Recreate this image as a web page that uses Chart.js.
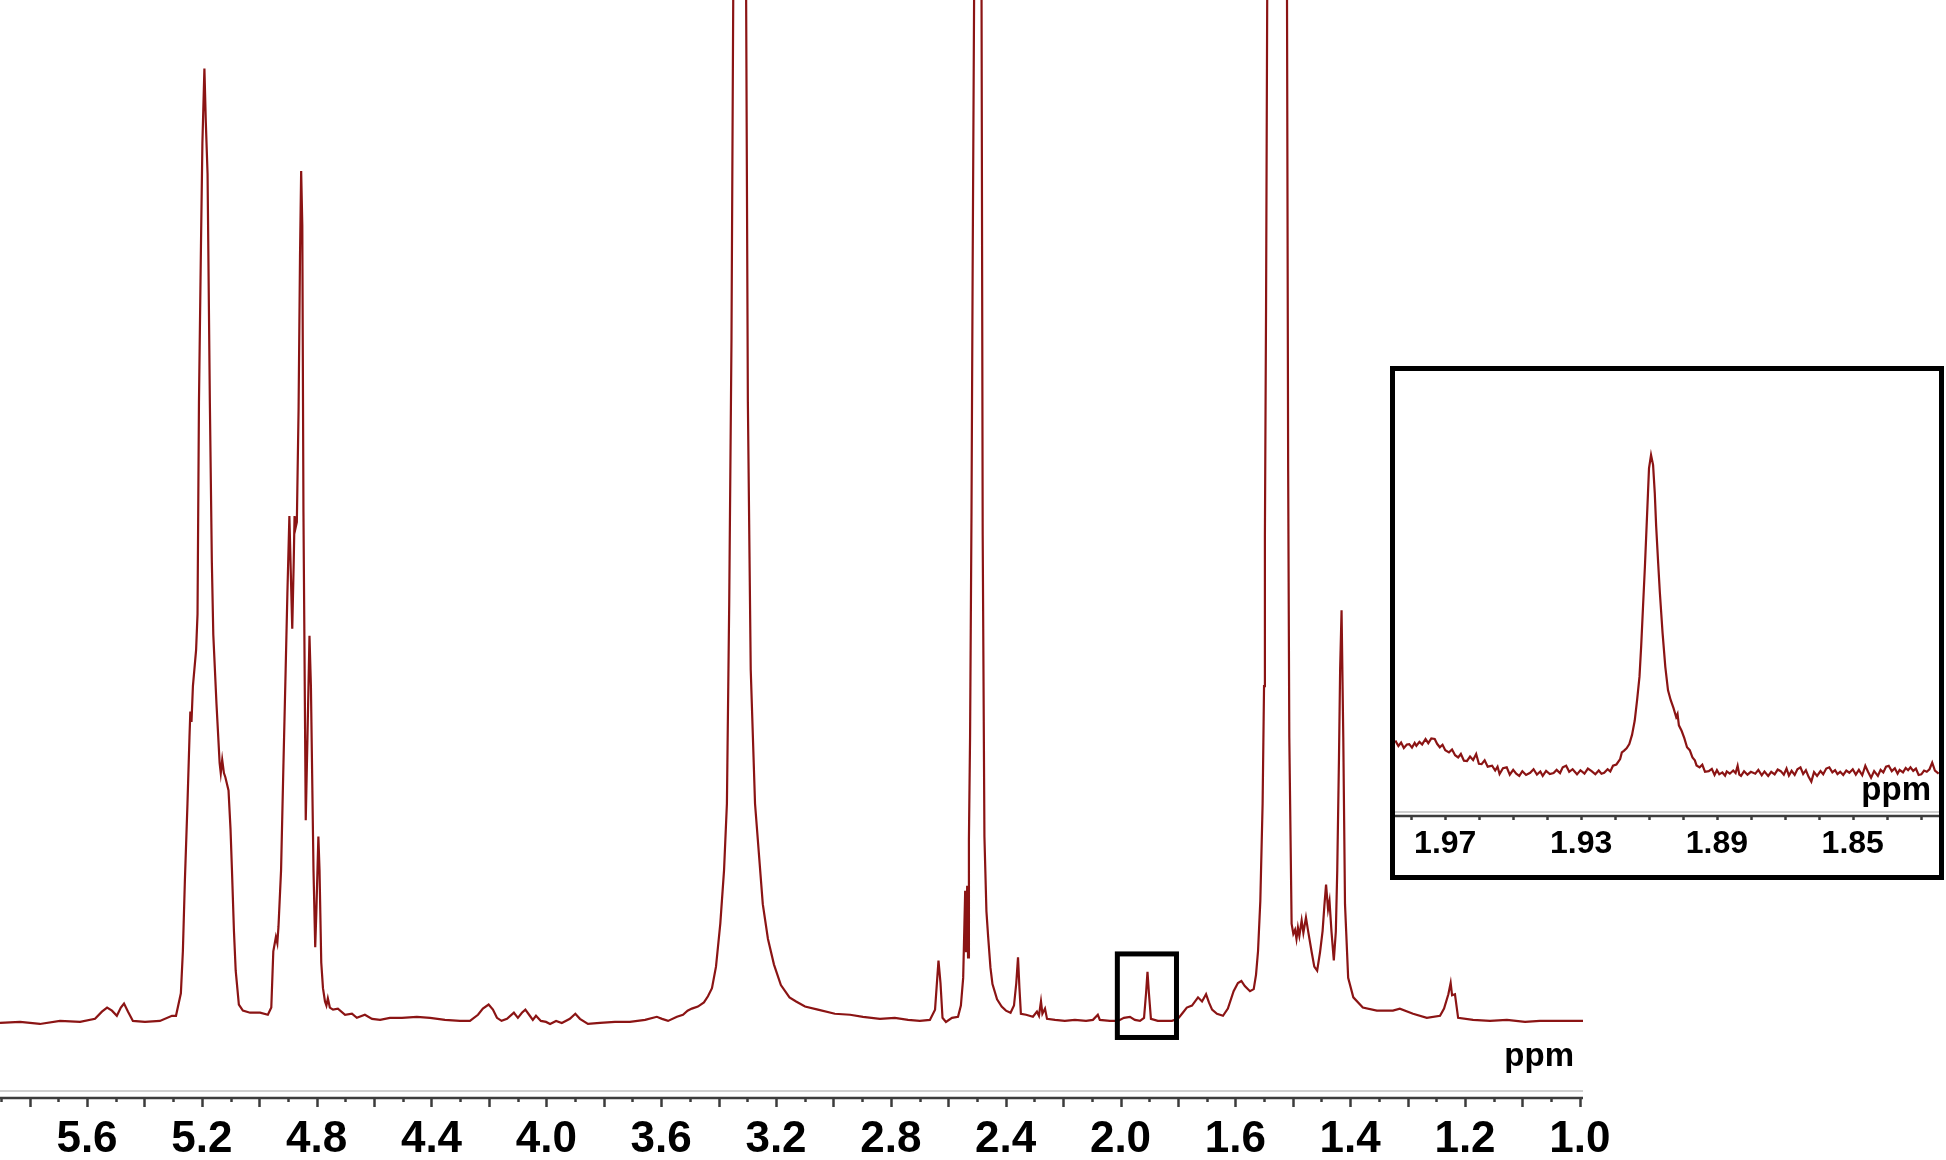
<!DOCTYPE html>
<html lang="es">
<head>
<meta charset="utf-8">
<title>Espectro 1H RMN</title>
<script src="https://cdn.jsdelivr.net/npm/chart.js@4.4.1/dist/chart.umd.min.js"></script>
<style>
  html, body { margin: 0; padding: 0; background: #fff; overflow: hidden; }
  #contenedor { position: relative; width: 1946px; height: 1160px; }
  #principal { position: absolute; left: 0; top: 0; }
  #recuadro { position: absolute; left: 1390px; top: 366px; width: 544px; height: 504px; border: 5px solid #000; background: #fff; }
  #ampliacion { display: block; }
</style>
</head>
<body>
<div id="contenedor">
  <canvas id="principal" width="1946" height="1160"></canvas>
  <div id="recuadro"><canvas id="ampliacion" width="544" height="504"></canvas></div>
</div>
<script>
const COLOR_ESPECTRO = '#8b1414';
const FUENTE = '"Liberation Sans", Arial, sans-serif';

// Espectro completo: desplazamiento (ppm) e intensidad relativa
const ppmPrincipal = [
  5.903, 5.833, 5.764, 5.694, 5.624, 5.572, 5.548, 5.530, 5.513, 5.496, 5.482, 5.471, 5.457, 5.440, 5.398, 5.346,
  5.304, 5.290, 5.273, 5.266, 5.259, 5.250, 5.243, 5.240, 5.236, 5.231, 5.220, 5.215, 5.210, 5.203, 5.198, 5.191,
  5.186, 5.180, 5.172, 5.165, 5.160, 5.149, 5.138, 5.134, 5.129, 5.123, 5.118, 5.107, 5.100, 5.095, 5.088, 5.082,
  5.071, 5.057, 5.032, 4.997, 4.970, 4.958, 4.951, 4.942, 4.937, 4.933, 4.924, 4.916, 4.908, 4.902, 4.895, 4.890,
  4.885, 4.880, 4.877, 4.873, 4.869, 4.863, 4.858, 4.854, 4.850, 4.846, 4.838, 4.832, 4.825, 4.820, 4.811, 4.805,
  4.801, 4.794, 4.790, 4.784, 4.778, 4.771, 4.766, 4.761, 4.754, 4.743, 4.726, 4.701, 4.677, 4.660, 4.632, 4.607,
  4.579, 4.545, 4.503, 4.451, 4.405, 4.353, 4.301, 4.266, 4.238, 4.221, 4.201, 4.186, 4.172, 4.156, 4.137, 4.113,
  4.099, 4.085, 4.073, 4.060, 4.047, 4.036, 4.019, 4.001, 3.987, 3.966, 3.946, 3.918, 3.899, 3.883, 3.855, 3.813,
  3.761, 3.709, 3.656, 3.615, 3.597, 3.576, 3.545, 3.524, 3.508, 3.493, 3.472, 3.451, 3.437, 3.423, 3.409, 3.394,
  3.381, 3.371, 3.363, 3.355, 3.349, 3.327, 3.304, 3.298, 3.288, 3.273, 3.246, 3.228, 3.207, 3.183, 3.153, 3.130,
  3.099, 3.054, 2.995, 2.942, 2.897, 2.838, 2.786, 2.740, 2.699, 2.664, 2.646, 2.634, 2.627, 2.620, 2.608, 2.587,
  2.566, 2.556, 2.548, 2.541, 2.538, 2.534, 2.531, 2.528, 2.524, 2.519, 2.515, 2.510, 2.498, 2.484, 2.480, 2.474,
  2.467, 2.461, 2.453, 2.446, 2.430, 2.414, 2.399, 2.383, 2.371, 2.363, 2.357, 2.352, 2.347, 2.329, 2.305, 2.291,
  2.284, 2.277, 2.272, 2.263, 2.256, 2.228, 2.194, 2.159, 2.120, 2.096, 2.079, 2.072, 2.037, 2.009, 1.988, 1.967,
  1.950, 1.932, 1.918, 1.911, 1.906, 1.901, 1.894, 1.870, 1.845, 1.821, 1.800, 1.783, 1.769, 1.751, 1.730, 1.716,
  1.702, 1.692, 1.681, 1.664, 1.643, 1.626, 1.606, 1.591, 1.579, 1.567, 1.549, 1.536, 1.528, 1.521, 1.513, 1.505,
  1.500, 1.497, 1.493, 1.489, 1.455, 1.420, 1.416, 1.412, 1.404, 1.398, 1.392, 1.387, 1.382, 1.377, 1.369, 1.363,
  1.354, 1.346, 1.334, 1.325, 1.315, 1.305, 1.296, 1.290, 1.284, 1.277, 1.272, 1.265, 1.257, 1.250, 1.245, 1.239,
  1.235, 1.230, 1.224, 1.218, 1.207, 1.189, 1.156, 1.107, 1.051, 1.027, 0.981, 0.933, 0.887, 0.873, 0.858, 0.850,
  0.845, 0.835, 0.824, 0.772, 0.713, 0.654, 0.591, 0.539, 0.469, 0.389
];
const intensidadPrincipal = [
  0.1, 0.2, 0.0, 0.3, 0.2, 0.5, 1.2, 1.6, 1.3, 0.8, 1.6, 2.0, 1.2, 0.3, 0.2, 0.3,
  0.8, 0.8, 3.0, 7.1, 14, 21.5, 28, 30.5, 29.5, 33, 36.5, 40, 60.7, 76, 86, 93.3,
  88, 83, 60.7, 45, 38, 31.3, 25.5, 24.5, 25.8, 24.5, 24.1, 22.8, 19, 15, 9, 5.2,
  1.9, 1.3, 1.1, 1.1, 0.9, 1.6, 7.1, 8.5, 7.9, 9.5, 15, 25, 34.6, 42, 49.6, 44,
  38.6, 45, 49.6, 48.5, 49.0, 60, 75, 83.3, 78, 50, 19.9, 28, 37.9, 33, 15, 7.5,
  11, 18.3, 15, 6, 3.5, 2.2, 1.8, 2.5, 1.6, 1.4, 1.5, 0.9, 1.0, 0.6, 0.9, 0.5,
  0.4, 0.6, 0.6, 0.7, 0.6, 0.4, 0.3, 0.3, 0.9, 1.5, 1.9, 1.4, 0.6, 0.3, 0.5, 1.1,
  0.6, 1.1, 1.4, 0.9, 0.4, 0.8, 0.3, 0.2, 0.0, 0.3, 0.1, 0.5, 1.0, 0.5, 0.0, 0.1,
  0.2, 0.2, 0.4, 0.7, 0.5, 0.3, 0.7, 0.9, 1.3, 1.5, 1.7, 2.1, 2.7, 3.5, 5.6, 9.8,
  15, 21.5, 41, 67, 100, 400, 100, 60.8, 34.6, 21.5, 11.7, 8.3, 5.8, 3.8, 2.6, 2.2,
  1.7, 1.4, 1.0, 0.9, 0.7, 0.5, 0.6, 0.4, 0.3, 0.4, 1.4, 6.2, 4.0, 0.6, 0.2, 0.6,
  0.7, 1.8, 4.5, 13, 7, 13.5, 6.5, 18, 28, 50, 73.8, 100, 400, 100, 47.7, 18.3,
  11, 8.5, 5.5, 3.9, 2.4, 1.7, 1.3, 1.1, 1.8, 4.0, 6.5, 3.5, 1.0, 0.9, 0.7, 1.2,
  0.8, 2.2, 1.0, 1.5, 0.5, 0.4, 0.3, 0.4, 0.3, 0.4, 0.9, 0.4, 0.3, 0.3, 0.6, 0.7,
  0.4, 0.3, 0.6, 3.0, 5.1, 3.0, 0.5, 0.3, 0.3, 0.3, 0.5, 1.1, 1.6, 1.8, 2.6, 2.2,
  2.9, 2.1, 1.4, 1.0, 0.8, 1.5, 3.2, 4.0, 4.2, 3.7, 3.2, 3.4, 4.8, 7.1, 12, 21.5,
  33, 47.7, 70, 100, 400, 100, 54, 28, 9.8, 8.8, 9.2, 8.3, 9.4, 8.6, 10.1, 8.9,
  10.4, 9.0, 7.0, 5.6, 5.2, 7.0, 9.1, 11.5, 13.6, 11.2, 12.0, 9.0, 6.2, 9, 15, 26,
  34.6, 40.4, 28, 11.7, 4.5, 2.6, 1.6, 1.3, 1.3, 1.5, 1.0, 0.6, 0.8, 1.5, 2.9, 4.0,
  2.8, 2.9, 0.6, 0.4, 0.3, 0.4, 0.2, 0.3, 0.3, 0.3
];

// Ampliación de la zona 1.98 - 1.82 ppm
const ppmAmpliacion = [
  1.9847, 1.9838, 1.9830, 1.9822, 1.9813, 1.9806, 1.9798, 1.9790, 1.9785, 1.9776, 1.9768, 1.9758, 1.9750, 1.9741,
  1.9731, 1.9724, 1.9716, 1.9708, 1.9700, 1.9689, 1.9680, 1.9671, 1.9662, 1.9654, 1.9645, 1.9636, 1.9627, 1.9618,
  1.9609, 1.9601, 1.9593, 1.9584, 1.9575, 1.9562, 1.9553, 1.9546, 1.9540, 1.9530, 1.9519, 1.9510, 1.9500, 1.9491,
  1.9482, 1.9473, 1.9462, 1.9450, 1.9440, 1.9430, 1.9420, 1.9413, 1.9403, 1.9392, 1.9381, 1.9372, 1.9362, 1.9354,
  1.9344, 1.9335, 1.9325, 1.9312, 1.9302, 1.9290, 1.9280, 1.9269, 1.9258, 1.9248, 1.9240, 1.9232, 1.9222, 1.9214,
  1.9206, 1.9196, 1.9185, 1.9180, 1.9174, 1.9166, 1.9158, 1.9150, 1.9142, 1.9135, 1.9128, 1.9123, 1.9118, 1.9112,
  1.9107, 1.9103, 1.9100, 1.9094, 1.9088, 1.9083, 1.9079, 1.9073, 1.9068, 1.9060, 1.9052, 1.9044, 1.9036, 1.9028,
  1.9020, 1.9016, 1.9012, 1.9004, 1.8996, 1.8988, 1.8980, 1.8972, 1.8965, 1.8960, 1.8951, 1.8943, 1.8935, 1.8924,
  1.8915, 1.8907, 1.8900, 1.8893, 1.8884, 1.8876, 1.8871, 1.8862, 1.8852, 1.8845, 1.8839, 1.8834, 1.8829, 1.8820,
  1.8810, 1.8800, 1.8787, 1.8778, 1.8768, 1.8760, 1.8749, 1.8740, 1.8730, 1.8721, 1.8712, 1.8703, 1.8695, 1.8688,
  1.8680, 1.8671, 1.8663, 1.8654, 1.8646, 1.8638, 1.8630, 1.8622, 1.8614, 1.8605, 1.8595, 1.8587, 1.8578, 1.8569,
  1.8560, 1.8552, 1.8545, 1.8537, 1.8528, 1.8519, 1.8510, 1.8500, 1.8491, 1.8482, 1.8472, 1.8463, 1.8455, 1.8446,
  1.8437, 1.8426, 1.8418, 1.8410, 1.8402, 1.8394, 1.8385, 1.8376, 1.8368, 1.8362, 1.8352, 1.8344, 1.8337, 1.8330,
  1.8322, 1.8314, 1.8306, 1.8298, 1.8290, 1.8282, 1.8274, 1.8266, 1.8258, 1.8247
];
const intensidadAmpliacion = [
  10.2, 8.5, 9.6, 7.9, 9.0, 9.1, 8.0, 9.5, 8.6, 9.8, 9.0, 10.7, 9.4, 10.9,
  10.7, 9.2, 8.1, 8.9, 7.2, 6.5, 7.4, 5.6, 4.9, 6.0, 3.9, 3.8, 5.2, 4.1,
  6.0, 2.9, 2.8, 4.0, 2.0, 2.3, 0.8, 2.0, -0.3, 1.5, 1.8, -0.5, 1.0, -0.2,
  -0.9, 0.6, -0.6, 0.1, 1.2, -0.5, 0.5, -0.9, 0.7, -0.3, 0.0, 1.0, 0.0, 1.8,
  2.3, 0.4, 1.2, -0.4, 0.9, -0.2, 1.4, 0.6, -0.4, 0.8, -0.2, 0.1, 1.2, 0.5,
  2.3, 2.7, 4.4, 6.5, 7.0, 7.8, 9.1, 12.0, 16.5, 23, 30.3, 40, 51.4, 65,
  77.8, 88, 95.8, 100, 96.9, 88, 77.8, 66, 56.7, 44, 33.4, 26, 22.9, 20.5,
  17.6, 18.6, 15, 13.3, 11.0, 8.1, 7.2, 4.9, 4.0, 2.4, 1.8, 2.6, 0.4, 0.6,
  1.3, -0.6, 0.9, -0.4, 0.2, -0.8, 0.5, -0.2, 0.8, 0.0, 2.3, -0.5, -0.9, 0.6,
  -0.5, 0.4, -0.2, 1.0, -0.7, 0.5, -0.9, 0.4, -0.4, 1.1, 0.6, -0.5, 1.4, -0.8,
  0.7, -0.6, 1.2, 1.8, -0.3, 0.9, -1.2, -2.7, 0.3, -0.9, 0.6, -0.4, 1.4, 1.8,
  0.2, 0.9, -0.3, 0.4, -0.6, 0.8, 0.1, 1.2, -0.5, 1.0, -0.7, 2.3, 0.4, -1.5,
  0.6, -0.9, 1.0, 0.2, 2.0, 2.3, 0.6, 1.5, -0.2, 1.0, 0.2, 1.6, 0.9, 1.8,
  0.7, 1.4, -0.6, -0.4, 0.8, 0.4, 1.2, 3.3, 0.8, -0.2
];

// Marcas del eje tal como aparecen impresas (a partir de 1.6 el rótulo avanza 0.2)
const posicionesEje = [5.6, 5.2, 4.8, 4.4, 4.0, 3.6, 3.2, 2.8, 2.4, 2.0, 1.6, 1.2, 0.8, 0.4];
const etiquetasEje = ['5.6', '5.2', '4.8', '4.4', '4.0', '3.6', '3.2', '2.8', '2.4', '2.0', '1.6', '1.4', '1.2', '1.0'];
const posicionesAmpliacion = [1.97, 1.93, 1.89, 1.85];
const etiquetasAmpliacion = ['1.97', '1.93', '1.89', '1.85'];

// Zona señalada con el rectángulo (ppm e intensidad)
const zonaAmpliada = [2.011, 1.805, 6.84, -1.32];

function aPuntos(xs, ys) {
  return xs.map((x, i) => ({ x: x, y: ys[i] }));
}

function etiquetaDe(posiciones, etiquetas) {
  return (valor) => {
    const i = posiciones.findIndex(p => Math.abs(p - valor) < 1e-6);
    return i >= 0 ? etiquetas[i] : '';
  };
}

// Dibuja la doble línea del eje, las marcas y el rótulo "ppm"
function pluginEje(id, cfg) {
  return {
    id: id,
    afterDraw(chart) {
      const ctx = chart.ctx;
      const area = chart.chartArea;
      const escala = chart.scales.x;
      ctx.save();
      ctx.strokeStyle = '#cfcfcf';
      ctx.lineWidth = 2;
      ctx.beginPath();
      ctx.moveTo(area.left, area.bottom - cfg.separacion);
      ctx.lineTo(area.right, area.bottom - cfg.separacion);
      ctx.stroke();

      ctx.strokeStyle = '#3c3c3c';
      ctx.lineWidth = 2.5;
      ctx.beginPath();
      ctx.moveTo(area.left, area.bottom);
      ctx.lineTo(area.right, area.bottom);
      escala.ticks.forEach(t => {
        const px = Math.round(escala.getPixelForValue(t.value)) + 0.5;
        const larga = cfg.marcaLarga(t.value);
        ctx.moveTo(px, area.bottom);
        ctx.lineTo(px, area.bottom + (larga ? cfg.largo : cfg.corto));
      });
      ctx.stroke();

      ctx.fillStyle = '#000';
      ctx.font = 'bold ' + cfg.tamPpm + 'px ' + FUENTE;
      ctx.textAlign = 'right';
      ctx.textBaseline = 'alphabetic';
      ctx.fillText('ppm', area.right - cfg.ppmDerecha, area.bottom - cfg.ppmArriba);

      if (cfg.zona) {
        const y = chart.scales.y;
        const x1 = escala.getPixelForValue(cfg.zona[0]);
        const x2 = escala.getPixelForValue(cfg.zona[1]);
        const y1 = y.getPixelForValue(cfg.zona[2]);
        const y2 = y.getPixelForValue(cfg.zona[3]);
        ctx.strokeStyle = '#000';
        ctx.lineWidth = 5;
        ctx.strokeRect(x1, y1, x2 - x1, y2 - y1);
      }
      ctx.restore();
    }
  };
}

function crearEspectro(idCanvas, puntos, opciones, plugin) {
  return new Chart(document.getElementById(idCanvas), {
    type: 'line',
    data: {
      datasets: [{
        data: puntos,
        borderColor: COLOR_ESPECTRO,
        borderWidth: 2.2,
        pointRadius: 0,
        tension: 0,
        fill: false
      }]
    },
    options: {
      responsive: false,
      animation: false,
      events: [],
      layout: { padding: opciones.padding, autoPadding: false },
      plugins: { legend: { display: false }, tooltip: { enabled: false } },
      scales: {
        x: {
          type: 'linear',
          reverse: true,
          min: opciones.xMin,
          max: opciones.xMax,
          grid: { display: false, drawTicks: false },
          border: { display: false },
          afterFit: (escala) => {
            // alto fijo del eje para situar el área del gráfico
            escala.height = opciones.altoEje;
            escala.paddingLeft = 0;
            escala.paddingRight = 0;
          },
          ticks: {
            stepSize: opciones.paso,
            includeBounds: false,
            autoSkip: false,
            maxRotation: 0,
            minRotation: 0,
            padding: opciones.relleno,
            color: '#000',
            font: { family: FUENTE, size: opciones.tamFuente, weight: 'bold', lineHeight: 1 },
            callback: opciones.etiqueta
          }
        },
        y: {
          display: false,
          min: opciones.yMin,
          max: opciones.yMax
        }
      }
    },
    plugins: [plugin]
  });
}

// Espectro completo
crearEspectro('principal', aPuntos(ppmPrincipal, intensidadPrincipal), {
  padding: { left: 0, right: 363, top: 0, bottom: 0 },
  xMin: 0.389, xMax: 5.903, paso: 0.1,
  yMin: -7.23, yMax: 100,
  altoEje: 62, relleno: 20, tamFuente: 44,
  etiqueta: etiquetaDe(posicionesEje, etiquetasEje)
}, pluginEje('ejePrincipal', {
  separacion: 7, corto: 4, largo: 9,
  marcaLarga: v => Math.round(v * 10) % 2 === 0,
  tamPpm: 33, ppmDerecha: 9, ppmArriba: 32,
  zona: zonaAmpliada
}));

// Recuadro ampliado
crearEspectro('ampliacion', aPuntos(ppmAmpliacion, intensidadAmpliacion), {
  padding: { left: 0, right: 0, top: 0, bottom: 0 },
  xMin: 1.8246, xMax: 1.9848, paso: 0.01,
  yMin: -13.5, yMax: 126.4,
  altoEje: 59, relleno: 12, tamFuente: 32,
  etiqueta: etiquetaDe(posicionesAmpliacion, etiquetasAmpliacion)
}, pluginEje('ejeAmpliacion', {
  separacion: 4, corto: 4, largo: 6,
  marcaLarga: v => false,
  tamPpm: 33, ppmDerecha: 8, ppmArriba: 16,
  zona: null
}));
</script>
</body>
</html>
